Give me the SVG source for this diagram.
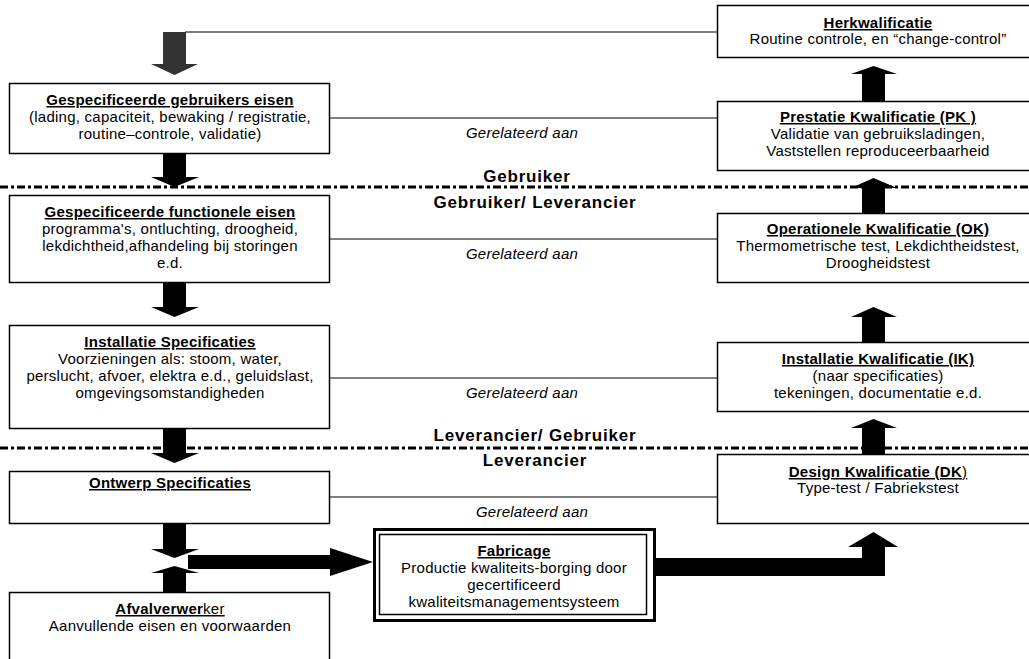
<svg xmlns="http://www.w3.org/2000/svg" width="1029" height="659" viewBox="0 0 1029 659">
<style>
text{font-family:"Liberation Sans",Arial,sans-serif;font-size:15px;fill:#000;text-anchor:middle;letter-spacing:0.25px}
.t{font-weight:bold;text-decoration:underline}
.g{font-style:italic}
.lbl{font-weight:bold;font-size:17px;letter-spacing:0.8px}
.box{fill:#fff;stroke:#000;stroke-width:1.5}
.con{stroke:#000;stroke-width:1;fill:none}
.sep{stroke:#000;stroke-width:3;stroke-dasharray:8 3 3 3;fill:none}
.arr{fill:#000;stroke:none}
</style>
<rect width="1029" height="659" fill="#fff"/>

<g id="separators">
<line class="sep" x1="0" y1="187" x2="1029" y2="187"/>
<line class="sep" x1="0" y1="448" x2="1029" y2="448"/>
<text class="lbl" x="527" y="182">Gebruiker</text>
<text class="lbl" x="535" y="208">Gebruiker/ Leverancier</text>
<text class="lbl" x="535" y="441">Leverancier/ Gebruiker</text>
<text class="lbl" x="535" y="466">Leverancier</text>
</g>

<g id="connectors">
<line class="con" x1="185" y1="32" x2="717" y2="32"/>
<line class="con" x1="330" y1="118" x2="717" y2="118"/>
<line class="con" x1="330" y1="239" x2="717" y2="239"/>
<line class="con" x1="330" y1="378" x2="717" y2="378"/>
<line class="con" x1="330" y1="497" x2="717" y2="497"/>
<text class="g" x="522" y="138">Gerelateerd aan</text>
<text class="g" x="522" y="259">Gerelateerd aan</text>
<text class="g" x="522" y="398">Gerelateerd aan</text>
<text class="g" x="532" y="517">Gerelateerd aan</text>
<!-- left arrows -->
<polygon fill="#333" points="163,32 186,32 186,64 198,64 174.5,75 151,64 163,64"/>
<polygon class="arr" points="163,153 186,153 186,177 199,177 174.5,187 151,177 163,177"/>
<polygon class="arr" points="163,282 186,282 186,307 199,307 174.5,317 151,307 163,307"/>
<polygon class="arr" points="163,428 186,428 186,453 199,453 174.5,463 151,453 163,453"/>
<polygon class="arr" points="163,523 186,523 186,549 199,549 174.5,558 151,549 163,549"/>
<polygon class="arr" points="163,592 186,592 186,573 199,573 174.5,566 151,573 163,573"/>
<polygon class="arr" points="188,555 330,555 330,548 373,562 330,576 330,569 188,569"/>
<!-- right arrows -->
<polygon class="arr" points="862,101 885,101 885,74 897,74 873.5,66 851,74 862,74"/>
<polygon class="arr" points="862,213 885,213 885,188 897,188 873.5,178 851,188 862,188"/>
<polygon class="arr" points="862,342 885,342 885,317 897,317 873.5,307 851,317 862,317"/>
<polygon class="arr" points="862,454 885,454 885,428 897,428 873.5,419 851,428 862,428"/>
<polygon class="arr" points="656,558 862,558 862,547 848,547 873.5,532 898,547 885,547 885,576 656,576"/>
</g>

<g id="n-gebruikerseisen">
<rect class="box" x="9.5" y="83.5" width="320" height="70"/>
<text class="t" x="170" y="105">Gespecificeerde gebruikers eisen</text>
<text x="170" y="122">(lading, capaciteit, bewaking / registratie,</text>
<text x="170" y="139">routine–controle, validatie)</text>
</g>

<g id="n-functioneel">
<rect class="box" x="9.5" y="195.5" width="320" height="87"/>
<text class="t" x="170" y="217">Gespecificeerde functionele eisen</text>
<text x="170" y="234">programma's,  ontluchting, droogheid,</text>
<text x="170" y="251">lekdichtheid,afhandeling bij storingen</text>
<text x="170" y="268">e.d.</text>
</g>

<g id="n-installatiespec">
<rect class="box" x="9.5" y="325.5" width="320" height="103"/>
<text class="t" x="170" y="347">Installatie Specificaties</text>
<text x="170" y="364">Voorzieningen als: stoom, water,</text>
<text x="170" y="381">perslucht, afvoer, elektra e.d., geluidslast,</text>
<text x="170" y="398">omgevingsomstandigheden</text>
</g>

<g id="n-ontwerp">
<rect class="box" x="9.5" y="471.5" width="320" height="52"/>
<text class="t" x="170" y="488">Ontwerp Specificaties</text>
</g>

<g id="n-afval">
<rect class="box" x="9.5" y="592.5" width="320" height="80"/>
<text x="170" y="614" style="text-decoration:underline"><tspan font-weight="bold">Afvalverwer</tspan>ker</text>
<text x="170" y="631">Aanvullende eisen en voorwaarden</text>
</g>

<g id="n-fabricage">
<rect x="374.5" y="529.5" width="280" height="91" fill="#fff" stroke="#000" stroke-width="3"/>
<rect x="379.5" y="534.5" width="267" height="80" fill="none" stroke="#000" stroke-width="1.5"/>
<text class="t" x="514" y="556">Fabricage</text>
<text x="514" y="573">Productie kwaliteits-borging door</text>
<text x="514" y="590">gecertificeerd</text>
<text x="514" y="607">kwaliteitsmanagementsysteem</text>
</g>

<g id="n-herkwalificatie">
<rect class="box" x="717.5" y="5.5" width="330" height="52"/>
<text class="t" x="878" y="28">Herkwalificatie</text>
<text x="878" y="44">Routine controle, en “change-control”</text>
</g>

<g id="n-pk">
<rect class="box" x="717.5" y="101.5" width="330" height="69"/>
<text class="t" x="878" y="122">Prestatie Kwalificatie (PK )</text>
<text x="878" y="139">Validatie van gebruiksladingen,</text>
<text x="878" y="156">Vaststellen reproduceerbaarheid</text>
</g>

<g id="n-ok">
<rect class="box" x="717.5" y="213.5" width="330" height="69"/>
<text class="t" x="878" y="234">Operationele Kwalificatie (OK)</text>
<text x="878" y="251">Thermometrische test, Lekdichtheidstest,</text>
<text x="878" y="268">Droogheidstest</text>
</g>

<g id="n-ik">
<rect class="box" x="717.5" y="342.5" width="330" height="69"/>
<text class="t" x="878" y="364">Installatie Kwalificatie (IK)</text>
<text x="878" y="381">(naar specificaties)</text>
<text x="878" y="398">tekeningen, documentatie e.d.</text>
</g>

<g id="n-dk">
<rect class="box" x="717.5" y="454.5" width="330" height="69"/>
<text x="878" y="477" style="text-decoration:underline"><tspan font-weight="bold">Design Kwalificatie (DK</tspan>)</text>
<text x="878" y="493">Type-test / Fabriekstest</text>
</g>
</svg>
